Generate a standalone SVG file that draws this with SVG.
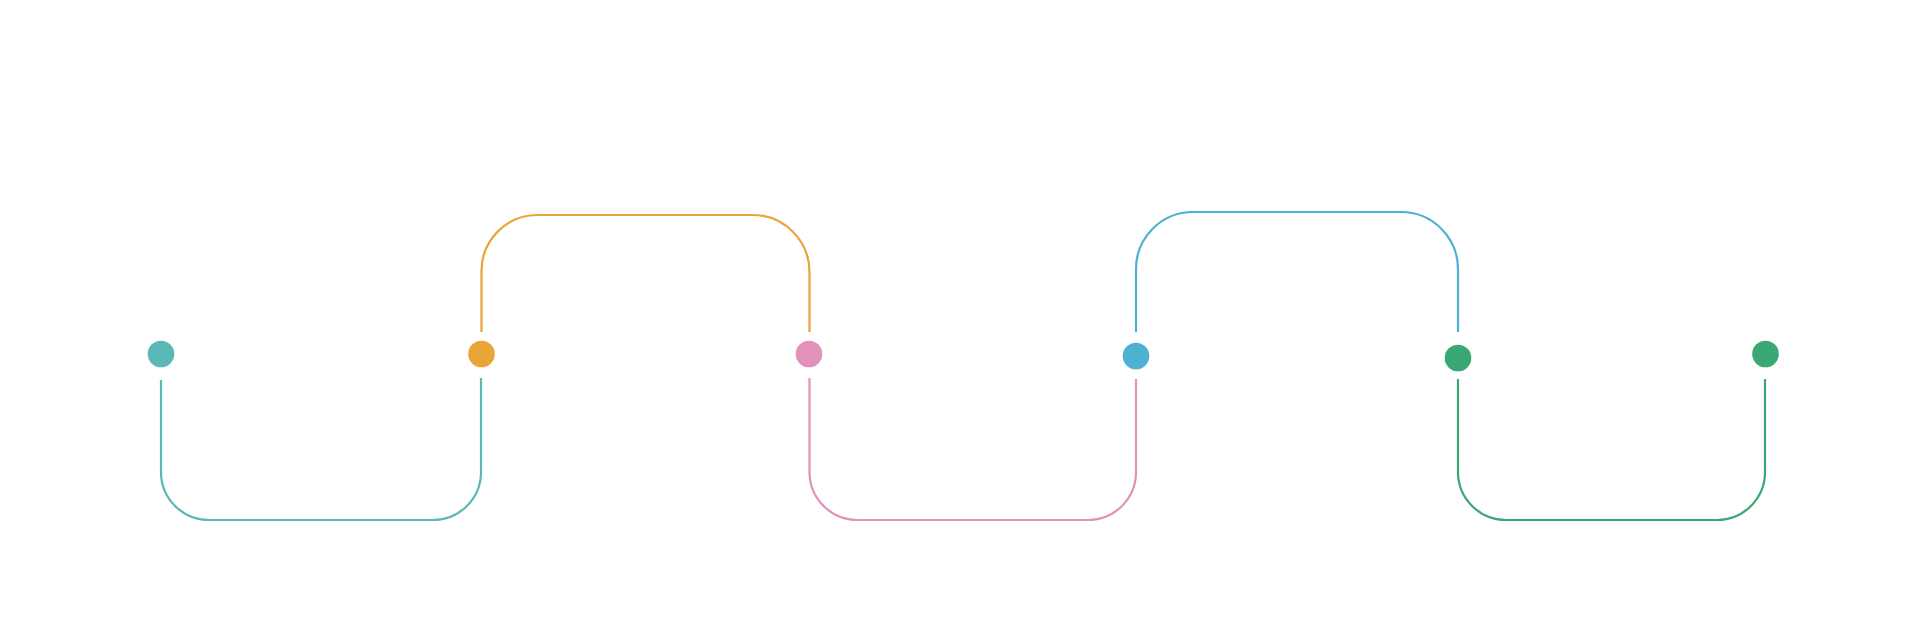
<svg xmlns="http://www.w3.org/2000/svg" width="1920" height="639" viewBox="0 0 1920 639">
<style>
.c{fill:none;stroke-width:2.2;stroke-linecap:butt}
</style>
<rect width="1920" height="639" fill="#ffffff"/>
<g id="connectors">
<path class="c" stroke="#5ab8b6" d="M161 380 V472 A48 48 0 0 0 209 520 H433 A48 48 0 0 0 481 472 V378"/>
<path class="c" stroke="#eaa538" d="M481.5 332 V271 A56 56 0 0 1 537.5 215 H752.5 A57 57 0 0 1 809.5 272 V332"/>
<path class="c" stroke="#e291bb" d="M809.5 378 V472 A48 48 0 0 0 857.5 520 H1088 A48 48 0 0 0 1136 472 V379"/>
<path class="c" stroke="#4fb0d2" d="M1136 332 V269 A57 57 0 0 1 1193 212 H1401 A57 57 0 0 1 1458 269 V332"/>
<path class="c" stroke="#3aa875" d="M1458 379 V472 A48 48 0 0 0 1506 520 H1717 A48 48 0 0 0 1765 472 V379"/>
</g>
<g id="node1"><circle cx="161" cy="354" r="13.3" fill="#5ab8b6"/></g>
<g id="node2"><circle cx="481.5" cy="354" r="13.3" fill="#eaa538"/></g>
<g id="node3"><circle cx="809" cy="354" r="13.3" fill="#e291bb"/></g>
<g id="node4"><circle cx="1136" cy="356" r="13.3" fill="#4fb0d2"/></g>
<g id="node5"><circle cx="1458" cy="358" r="13.3" fill="#3aa875"/></g>
<g id="node6"><circle cx="1765.5" cy="354" r="13.3" fill="#3aa875"/></g>
</svg>
